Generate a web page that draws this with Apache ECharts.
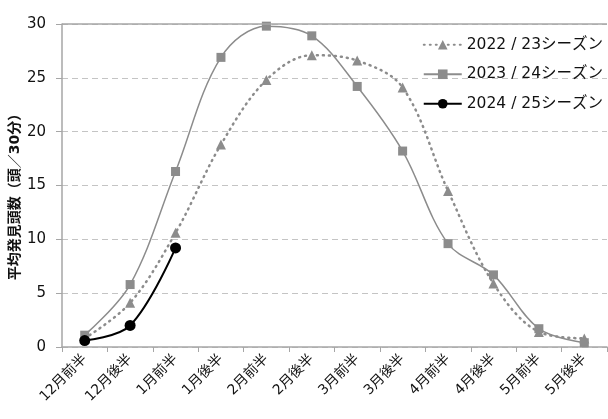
<!DOCTYPE html>
<html><head><meta charset="utf-8">
<script src="https://cdn.jsdelivr.net/npm/echarts@6/dist/echarts.min.js"></script>
<style>html,body{margin:0;padding:0;background:#fff}#c{width:608px;height:419px}</style>
</head><body><div id="c"></div>
<script>
const categories = ['12月前半','12月後半','1月前半','1月後半','2月前半','2月後半','3月前半','3月後半','4月前半','4月後半','5月前半','5月後半'];
const s2223 = [0.8, 4.1, 10.6, 18.8, 24.8, 27.1, 26.6, 24.1, 14.5, 5.9, 1.4, 0.8];
const s2324 = [1.1, 5.8, 16.3, 26.9, 29.8, 28.9, 24.2, 18.2, 9.6, 6.7, 1.7, 0.4];
const s2425 = [0.6, 2.0, 9.2];
const names = ['2022 / 23シーズン','2023 / 24シーズン','2024 / 25シーズン'];
const yTicks = [0, 5, 10, 15, 20, 25, 30];
const yName = '平均発見頭数（頭／30分）';

const font = '"DejaVu Sans", "Noto Sans CJK JP", sans-serif';
const chart = echarts.init(document.getElementById('c'), null, {renderer:'canvas'});
chart.setOption({
  animation: false,
  textStyle: {fontFamily: font},
  grid: {left: 62, top: 24, right: 1, bottom: 72, containLabel: false, outerBoundsMode: 'none'},
  legend: {
    orient: 'vertical', right: 0, top: 32, itemGap: 14, itemWidth: 38, itemHeight: 12,
    textStyle: {fontSize: 15.5, color: '#111', fontFamily: font},
    data: names
  },
  xAxis: {
    type: 'category', data: categories, boundaryGap: true,
    axisLine: {lineStyle: {color: '#a6a6a6', width: 1.5}},
    axisTick: {show: true, length: 5, lineStyle: {color: '#a6a6a6'}},
    axisLabel: {rotate: 45, fontSize: 14, color: '#111', margin: 10, interval: 0, fontFamily: font}
  },
  yAxis: {
    type: 'value', min: yTicks[0], max: yTicks[yTicks.length-1], interval: 5,
    name: yName, nameLocation: 'middle', nameGap: 40, nameRotate: 90, nameMoveOverlap: false,
    nameTextStyle: {fontSize: 14, fontWeight: 'bold', color: '#111', fontFamily: font, padding: [0, 16, 0, 0]},
    axisLine: {show: true, lineStyle: {color: '#a6a6a6', width: 1.5}},
    axisTick: {show: true, length: 6, lineStyle: {color: '#a6a6a6'}},
    axisLabel: {fontSize: 15, color: '#111', margin: 16, fontFamily: font},
    splitLine: {show: true, lineStyle: {color: '#c4c4c4', type: [6, 4]}}
  },
  series: [
    {name: names[0], type: 'line', data: s2223, smooth: 0.35,
     symbol: 'triangle', symbolSize: 10, itemStyle: {color: '#8c8c8c'},
     lineStyle: {color: '#8c8c8c', width: 2.5, type: [1, 5], cap: 'round'}},
    {name: names[1], type: 'line', data: s2324, smooth: 0.35,
     symbol: 'rect', symbolSize: 9, itemStyle: {color: '#8c8c8c'},
     lineStyle: {color: '#8c8c8c', width: 1.5}},
    {name: names[2], type: 'line', data: s2425, smooth: 0.35,
     symbol: 'circle', symbolSize: 11, itemStyle: {color: '#000'},
     lineStyle: {color: '#000', width: 2}},
    {type: 'line', data: [], markLine: {silent: true, symbol: 'none', label: {show: false},
      lineStyle: {color: '#a6a6a6', type: 'solid', width: 1.5}, data: [{yAxis: 30}]}}
  ]
});
</script></body></html>
